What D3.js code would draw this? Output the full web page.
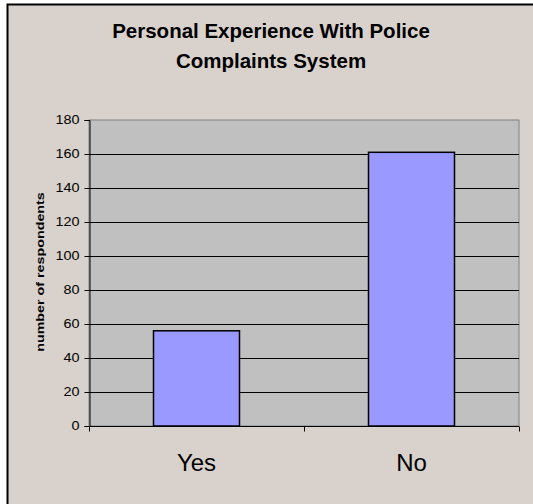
<!DOCTYPE html>
<html>
<head>
<meta charset="utf-8">
<script src="https://cdn.jsdelivr.net/npm/d3@7"></script>
<style>
  html, body { margin: 0; padding: 0; background: #ffffff; }
  svg { display: block; font-family: "Liberation Sans", Arial, sans-serif; }
</style>
</head>
<body>
<svg id="chart" width="533" height="504"></svg>
<script>
// Survey answers
const categories = ["Yes", "No"];
const respondents = [56, 161];
const yTicks = [0, 20, 40, 60, 80, 100, 120, 140, 160, 180];
const titleLines = ["Personal Experience With Police", "Complaints System"];
const yAxisLabel = "number of respondents";

const svg = d3.select("#chart");

// Chart area panel (extends past the right and bottom edges)
svg.append("rect")
  .attr("x", 7.5).attr("y", 4.5)
  .attr("width", 560).attr("height", 540)
  .attr("fill", "#d9d2cc")
  .attr("stroke", "#000").attr("stroke-width", 2);

const plot = { left: 89, right: 519, top: 120, bottom: 426 };

const x = d3.scaleBand()
  .domain(categories)
  .range([plot.left, plot.right])
  .paddingInner(0.6)
  .paddingOuter(0.3);

const y = d3.scaleLinear()
  .domain([0, 180])
  .range([plot.bottom, plot.top]);

// Plot area
svg.append("rect")
  .attr("x", plot.left).attr("y", plot.top)
  .attr("width", plot.right - plot.left).attr("height", plot.bottom - plot.top)
  .attr("fill", "#c0c0c0")
  .attr("stroke", "#808080").attr("stroke-width", 1);

// Horizontal gridlines
svg.append("g")
  .selectAll("line")
  .data(yTicks.filter(d => d > 0 && d < 180))
  .join("line")
  .attr("x1", plot.left).attr("x2", plot.right)
  .attr("y1", d => Math.round(y(d)) + 0.5).attr("y2", d => Math.round(y(d)) + 0.5)
  .attr("stroke", "#000").attr("stroke-width", 1);

// Bars
svg.append("g")
  .selectAll("rect")
  .data(categories.map((c, i) => ({ c, v: respondents[i] })))
  .join("rect")
  .attr("x", d => x(d.c))
  .attr("y", d => y(d.v))
  .attr("width", x.bandwidth())
  .attr("height", d => y(0) - y(d.v))
  .attr("fill", "#9999ff")
  .attr("stroke", "#000").attr("stroke-width", 1.5);

// Y axis
const tickStretch = 1.2;
const yAxis = svg.append("g")
  .attr("transform", `translate(${plot.left + 0.5},0)`)
  .call(d3.axisLeft(y).tickValues(yTicks).tickSize(5).tickPadding(4));
yAxis.select(".domain").attr("stroke", "#000");
yAxis.selectAll(".tick line").attr("stroke", "#000");
yAxis.selectAll(".tick text")
  .attr("font-family", "Liberation Sans, Arial, sans-serif")
  .attr("font-size", 12)
  .attr("fill", "#000")
  .attr("x", -10 / tickStretch)
  .attr("transform", `scale(${tickStretch},1)`);

// X axis: ticks sit on band boundaries
const xAxisG = svg.append("g")
  .attr("transform", `translate(0,${plot.bottom + 0.5})`);
xAxisG.append("line")
  .attr("x1", plot.left).attr("x2", plot.right)
  .attr("stroke", "#000");
const boundaries = [plot.left, x(categories[1]) - x.step() * x.paddingInner() / 2, plot.right];
xAxisG.selectAll("line.tick")
  .data(boundaries)
  .join("line")
  .attr("class", "tick")
  .attr("x1", d => Math.round(d) + 0.5).attr("x2", d => Math.round(d) + 0.5)
  .attr("y1", 0).attr("y2", 5)
  .attr("stroke", "#000");

// Category labels
svg.append("g")
  .selectAll("text")
  .data(categories)
  .join("text")
  .attr("x", d => x(d) + x.bandwidth() / 2)
  .attr("y", 471)
  .attr("text-anchor", "middle")
  .attr("font-size", 24)
  .attr("fill", "#000")
  .text(d => d);

// Y axis title
svg.append("text")
  .attr("transform", `translate(44,272) rotate(-90) scale(1.3,1)`)
  .attr("text-anchor", "middle")
  .attr("font-size", 11)
  .attr("font-weight", "bold")
  .attr("fill", "#000")
  .text(yAxisLabel);

// Chart title
svg.append("g")
  .selectAll("text")
  .data(titleLines)
  .join("text")
  .attr("x", 271)
  .attr("y", (d, i) => 38 + i * 30)
  .attr("text-anchor", "middle")
  .attr("font-size", 20.5)
  .attr("font-weight", "bold")
  .attr("fill", "#000")
  .text(d => d);
</script>
</body>
</html>
